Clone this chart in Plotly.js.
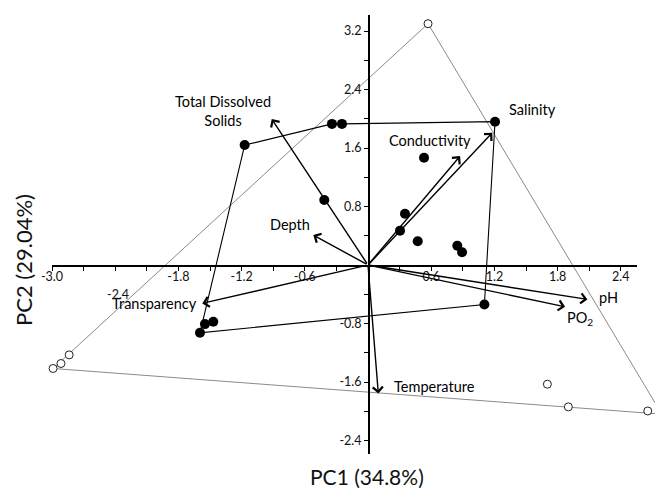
<!DOCTYPE html>
<html><head><meta charset="utf-8">
<script src="https://cdn.plot.ly/plotly-3.0.1.min.js"></script>
<style>html,body{margin:0;padding:0;background:#fff}</style>
</head><body><div id="chart" style="width:655px;height:489px"></div>
<script>
// ---- data ----
const siteX = [1.206, -0.342, -0.247, -1.171, -0.415, 0.532, 0.351, 0.304, 0.472, 0.848, 0.893, 1.105, -1.595, -1.548, -1.469];
const siteY = [1.96, 1.93, 1.93, 1.64, 0.89, 1.466, 0.70, 0.47, 0.325, 0.264, 0.174, -0.54, -0.927, -0.808, -0.776];
const hullX = [-1.171, -0.342, -0.247, 1.206, 1.105, -1.595, -1.171];
const hullY = [1.64, 1.93, 1.93, 1.96, -0.54, -0.927, 1.64];
const openX = [0.57, -2.99, -2.915, -2.837, 1.703, 1.902, 2.656];
const openY = [3.30, -1.415, -1.347, -1.229, -1.63, -1.94, -1.996];
const outerHullX = [0.57, 2.79, -2.99, 0.57];
const outerHullY = [3.30, -2.04, -1.415, 3.30];
const varNames = ['Total Dissolved<br>Solids', 'Depth', 'Conductivity', 'Salinity', 'pH', 'PO<sub>2</sub>', 'Transparency', 'Temperature'];
const loadX = [-0.914, -0.519, 0.874, 1.18, 2.083, 1.871, -1.573, 0.098];
const loadY = [1.996, 0.41, 1.49, 1.81, -0.47, -0.571, -0.525, -1.758];
const xTickVals = [-3.0, -2.7, -2.4, -2.1, -1.8, -1.5, -1.2, -0.9, -0.6, -0.3, 0.3, 0.6, 0.9, 1.2, 1.5, 1.8, 2.1, 2.4];
const xTickText = ['-3.0', '', '', '', '-1.8', '', '-1.2', '', '-0.6', '', '', '0.6', '', '1.2', '', '1.8', '', '2.4'];
const yTickVals = [-2.4, -2.0, -1.6, -1.2, -0.8, -0.4, 0.4, 0.8, 1.2, 1.6, 2.0, 2.4, 2.8, 3.2];
const yTickText = ['-2.4', '', '-1.6', '', '-0.8', '', '', '0.8', '', '1.6', '', '2.4', '', '3.2'];
const xTitle = 'PC1 (34.8%)';
const yTitle = 'PC2 (29.04%)';

// ---- styles / layout ----
const FONT = 'Lato, Carlito, Calibri, sans-serif';
const xr = [-3.4937, 2.7247];
const yr = [-3.063, 3.624];
const fx = v => (v - xr[0]) / (xr[1] - xr[0]);
const fy = v => (v - yr[0]) / (yr[1] - yr[0]);
const visX = [-3.0, 2.55];
const visY = [-2.58, 3.42];
// label offsets in pixels relative to arrow heads
const labelShift = [[-49, 8], [-23, 11], [-30, 16], [40, 23], [21, 2], [15, -12], [-48, 0], [56, 7]];

const traces = [
  {x: outerHullX, y: outerHullY, mode: 'lines', line: {color: '#8a8a8a', width: 1}, hoverinfo: 'skip'},
  {x: hullX, y: hullY, mode: 'lines', line: {color: '#000', width: 1.1}, hoverinfo: 'skip'},
  {x: openX, y: openY, mode: 'markers', marker: {symbol: 'circle', size: 8, color: '#fff', line: {color: '#222', width: 1}}},
  {x: siteX, y: siteY, mode: 'markers', marker: {symbol: 'circle', size: 10, color: '#000'}},
  {x: [null], y: [null], xaxis: 'x2', yaxis: 'y2', mode: 'markers', showlegend: false}
];

const annotations = [];
loadX.forEach((lx, i) => {
  annotations.push({x: lx, y: loadY[i], xref: 'x', yref: 'y', ax: 0, ay: 0, axref: 'x', ayref: 'y',
    text: '', showarrow: true, arrowhead: 4, arrowsize: 1.4, arrowwidth: 1.4, arrowcolor: '#000', standoff: 0});
  annotations.push({x: lx, y: loadY[i], xref: 'x', yref: 'y', text: varNames[i], showarrow: false,
    xanchor: 'center', yanchor: 'middle',
    xshift: labelShift[i][0], yshift: labelShift[i][1], font: {family: FONT, size: 14.5, color: '#000'}});
});
annotations.push({x: -2.4, y: 0, xref: 'x', yref: 'y', text: '-2.4', showarrow: false, xanchor: 'center', yanchor: 'middle',
  xshift: 3, yshift: -29, font: {family: FONT, size: 12.5, color: '#111'}});
annotations.push({x: 0.560, y: (489 - 476) / 489, xref: 'paper', yref: 'paper', text: xTitle, showarrow: false,
  xanchor: 'center', yanchor: 'middle', font: {family: FONT, size: 21, color: '#111'}});
annotations.push({x: 23 / 655, y: (489 - 260) / 489, xref: 'paper', yref: 'paper', text: yTitle, showarrow: false, textangle: -90,
  xanchor: 'center', yanchor: 'middle', font: {family: FONT, size: 22, color: '#111'}});

const layout = {
  width: 655, height: 489,
  margin: {l: 0, r: 0, t: 0, b: 0},
  paper_bgcolor: '#fff', plot_bgcolor: 'rgba(0,0,0,0)',
  showlegend: false,
  xaxis: {range: xr, domain: [0, 1], visible: false, fixedrange: true},
  yaxis: {range: yr, domain: [0, 1], visible: false, fixedrange: true},
  xaxis2: {range: visX, domain: [fx(visX[0]), fx(visX[1])], anchor: 'free', position: fy(0), side: 'bottom',
    showline: true, linecolor: '#000', linewidth: 1.5, showgrid: false, zeroline: false,
    ticks: 'outside', ticklen: 4, tickwidth: 1, tickcolor: '#000', ticklabelstandoff: -5,
    tickmode: 'array', tickvals: xTickVals, ticktext: xTickText,
    tickfont: {family: FONT, size: 12.5, color: '#111'}, fixedrange: true},
  yaxis2: {range: visY, domain: [fy(visY[0]), fy(visY[1])], anchor: 'free', position: fx(0), side: 'left',
    showline: true, linecolor: '#000', linewidth: 1.5, showgrid: false, zeroline: false,
    ticks: 'outside', ticklen: 4, tickwidth: 1, tickcolor: '#000',
    tickmode: 'array', tickvals: yTickVals, ticktext: yTickText,
    tickfont: {family: FONT, size: 12.5, color: '#111'}, fixedrange: true},
  annotations: annotations
};

Plotly.newPlot('chart', traces, layout, {displayModeBar: false, staticPlot: true});
</script>
</body></html>
